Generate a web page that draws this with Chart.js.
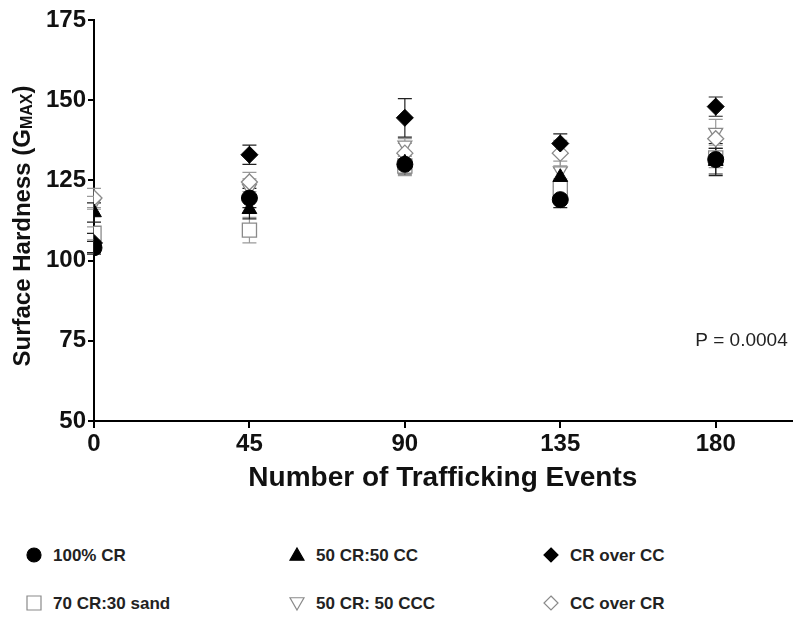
<!DOCTYPE html>
<html>
<head>
<meta charset="utf-8">
<script src="https://cdn.jsdelivr.net/npm/chart.js@4"></script>
<style>
  body { margin: 0; background: #fff; font-family: "Liberation Sans", Arial, sans-serif; }
  #wrap { position: relative; width: 803px; height: 618px; }
  #chart { position: absolute; left: 0; top: 0; }
  .legend-item { position: absolute; font-weight: bold; font-size: 17px; color: #222; white-space: nowrap; line-height: 20px; }
  .legend-item canvas { vertical-align: middle; margin-right: 10px; position: relative; top: -2px; }
</style>
</head>
<body>
<div id="wrap">
  <canvas id="chart" width="803" height="510"></canvas>
  <div id="legend"></div>
</div>
<script>
// data
const events = [0, 45, 90, 135, 180];
const xTicks = [0, 45, 90, 135, 180];
const yTicks = [50, 75, 100, 125, 150, 175];

const crFull = [104, 119.5, 130, 119, 131.5];
const crFullErr = [2, 3, 3, 2.5, 5];
const cr50cc50 = [115, 116, 130.5, 126, 131];
const cr50cc50Err = [3, 3, 3, 3, 4];
const crOverCc = [105.5, 133, 144.5, 136.5, 148];
const crOverCcErr = [3, 3, 6, 3, 3];
const crSand = [108.5, 109.5, 129.5, 122.5, 132];
const crSandErr = [2, 4, 3, 3, 3];
const cr50ccc50 = [118, 122.5, 136, 128, 140];
const cr50ccc50Err = [2, 3, 2, 3, 4];
const ccOverCr = [119.5, 124.5, 133.5, 133.5, 138];
const ccOverCrErr = [3, 3, 3, 4, 3];

const pValue = 'P = 0.0004';

const gray = '#8a8a8a';
const tickFont = '"Liberation Sans", Arial, sans-serif';
const textFont = '"Liberation Sans", Arial, sans-serif';

function makeSet(label, vals, errs, style, filled, radius, rot) {
  return {
    label: label,
    data: events.map((x, i) => ({ x: x, y: vals[i] })),
    errors: errs,
    pointStyle: style,
    pointRadius: radius,
    pointHoverRadius: radius,
    pointRotation: rot || 0,
    backgroundColor: filled ? '#000' : '#fff',
    borderColor: filled ? '#000' : gray,
    pointBorderWidth: filled ? 1 : 1.3,
    showLine: false,
    filled: filled,
    errColor: filled ? '#222' : '#9a9a9a'
  };
}

// chart.js paints index 0 last, so filled markers go first (on top)
const datasets = [
  makeSet('100% CR', crFull, crFullErr, 'circle', true, 8),
  makeSet('CR over CC', crOverCc, crOverCcErr, 'rectRot', true, 8.5),
  makeSet('50 CR:50 CC', cr50cc50, cr50cc50Err, 'triangle', true, 8.5),
  makeSet('CC over CR', ccOverCr, ccOverCrErr, 'rectRot', false, 8),
  makeSet('50 CR: 50 CCC', cr50ccc50, cr50ccc50Err, 'triangle', false, 8, 180),
  makeSet('70 CR:30 sand', crSand, crSandErr, 'rect', false, 10)
];

const errorBars = {
  id: 'errorBars',
  beforeDatasetsDraw(chart) {
    const ctx = chart.ctx;
    const xs = chart.scales.x, ys = chart.scales.y;
    chart.data.datasets.slice().reverse().forEach(ds => {
      ctx.save();
      ctx.strokeStyle = ds.errColor;
      ctx.lineWidth = 1.2;
      ds.data.forEach((p, i) => {
        const px = xs.getPixelForValue(p.x);
        const top = ys.getPixelForValue(p.y + ds.errors[i]);
        const bot = ys.getPixelForValue(p.y - ds.errors[i]);
        ctx.beginPath();
        ctx.moveTo(px, top); ctx.lineTo(px, bot);
        ctx.moveTo(px - 7, top); ctx.lineTo(px + 7, top);
        ctx.moveTo(px - 7, bot); ctx.lineTo(px + 7, bot);
        ctx.stroke();
      });
      ctx.restore();
    });
  }
};

const extraText = {
  id: 'extraText',
  afterDraw(chart) {
    const ctx = chart.ctx;
    const area = chart.chartArea;
    ctx.save();
    // y axis title with subscript
    ctx.translate(23, 226);
    ctx.rotate(-Math.PI / 2);
    ctx.fillStyle = '#111';
    ctx.textBaseline = 'middle';
    const main = 'Surface Hardness (G';
    const sub = 'MAX';
    const tail = ')';
    const big = 'bold 24px ' + textFont;
    const small = 'bold 16px ' + textFont;
    ctx.font = big;
    const w1 = ctx.measureText(main).width;
    const w3 = ctx.measureText(tail).width;
    ctx.font = small;
    const w2 = ctx.measureText(sub).width;
    const x0 = -(w1 + w2 + w3) / 2;
    ctx.font = big;
    ctx.fillText(main, x0, 0);
    ctx.font = small;
    ctx.fillText(sub, x0 + w1, 5);
    ctx.font = big;
    ctx.fillText(tail, x0 + w1 + w2, 0);
    ctx.restore();

    ctx.save();
    ctx.font = '19px ' + textFont;
    ctx.fillStyle = '#222';
    ctx.textAlign = 'right';
    ctx.textBaseline = 'middle';
    ctx.fillText(pValue, area.right - 4, 341);
    ctx.restore();
  }
};

new Chart(document.getElementById('chart'), {
  type: 'scatter',
  data: { datasets: datasets },
  options: {
    responsive: false,
    animation: false,
    layout: { padding: { top: 20, right: 3, left: 0, bottom: 11 } },
    plugins: { legend: { display: false }, tooltip: { enabled: false } },
    scales: {
      x: {
        type: 'linear',
        min: 0,
        max: 202,
        afterBuildTicks: s => { s.ticks = xTicks.map(v => ({ value: v })); },
        afterFit: s => { s.height = 78; },
        border: { color: '#000', width: 2 },
        grid: { drawOnChartArea: false, color: '#000', lineWidth: 2, tickLength: 7 },
        ticks: {
          color: '#111',
          padding: 2,
          font: { family: tickFont, size: 24, weight: 'bold' }
        },
        title: {
          display: true,
          text: 'Number of Trafficking Events',
          color: '#111',
          padding: { top: 4 },
          font: { family: textFont, size: 28, weight: 'bold' }
        }
      },
      y: {
        type: 'linear',
        min: 50,
        max: 175,
        afterBuildTicks: s => { s.ticks = yTicks.map(v => ({ value: v })); },
        afterFit: s => { s.width = 94; },
        border: { color: '#000', width: 2 },
        grid: { drawOnChartArea: false, color: '#000', lineWidth: 2, tickLength: 6 },
        ticks: {
          color: '#111',
          padding: 2,
          font: { family: tickFont, size: 24, weight: 'bold' }
        }
      }
    }
  },
  plugins: [errorBars, extraText]
});

// small marker drawn to match each series' point style
function drawMarker(cx, ds, c, r) {
  cx.beginPath();
  if (ds.pointStyle === 'circle') {
    cx.arc(c, c, r, 0, Math.PI * 2);
  } else if (ds.pointStyle === 'rect') {
    cx.rect(c - r, c - r, 2 * r, 2 * r);
  } else if (ds.pointStyle === 'rectRot') {
    cx.moveTo(c, c - r); cx.lineTo(c + r, c); cx.lineTo(c, c + r); cx.lineTo(c - r, c);
    cx.closePath();
  } else if (ds.pointStyle === 'triangle') {
    const s = ds.pointRotation === 180 ? -1 : 1;
    cx.moveTo(c, c - s * r); cx.lineTo(c + r, c + s * r * 0.75); cx.lineTo(c - r, c + s * r * 0.75);
    cx.closePath();
  }
  cx.fill();
  cx.stroke();
}

// legend below the chart, three columns
const legendOrder = ['100% CR', '50 CR:50 CC', 'CR over CC', '70 CR:30 sand', '50 CR: 50 CCC', 'CC over CR'];
const colX = [25, 288, 542];
const rowY = [546, 594];
const legendBox = document.getElementById('legend');
legendOrder.forEach((name, i) => {
  const ds = datasets.find(d => d.label === name);
  const item = document.createElement('div');
  item.className = 'legend-item';
  item.style.left = colX[i % 3] + 'px';
  item.style.top = rowY[Math.floor(i / 3)] + 'px';
  const c = document.createElement('canvas');
  c.width = 18; c.height = 18;
  const cx = c.getContext('2d');
  cx.fillStyle = ds.backgroundColor;
  cx.strokeStyle = ds.borderColor;
  cx.lineWidth = 1.2;
  drawMarker(cx, ds, 9, 7);
  item.appendChild(c);
  item.appendChild(document.createTextNode(name));
  legendBox.appendChild(item);
});
</script>
</body>
</html>
